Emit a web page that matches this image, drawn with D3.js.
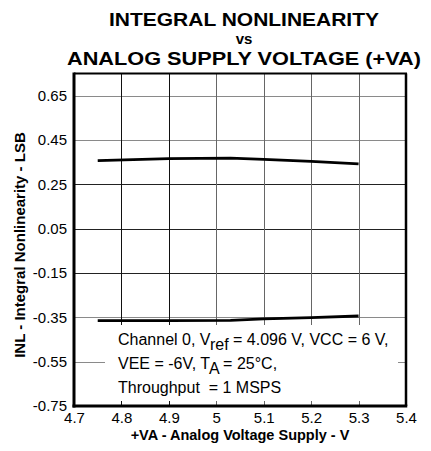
<!DOCTYPE html>
<html><head><meta charset="utf-8">
<script src="https://cdn.jsdelivr.net/npm/d3@7"></script>
<style>body{margin:0;background:#fff}svg{display:block}text{font-family:"Liberation Sans",Arial,sans-serif;white-space:pre}</style>
</head><body><svg id="c" width="431" height="451"></svg>
<script>
const titleLines = ["INTEGRAL NONLINEARITY", "vs", "ANALOG SUPPLY VOLTAGE (+VA)"];
const xLabel = "+VA - Analog Voltage Supply - V";
const yLabel = "INL - Integral Nonlinearity - LSB";
const xTicks = [4.7, 4.8, 4.9, 5.0, 5.1, 5.2, 5.3, 5.4];
const xTickLabels = ["4.7", "4.8", "4.9", "5", "5.1", "5.2", "5.3", "5.4"];
const yTicks = [-0.75, -0.55, -0.35, -0.15, 0.05, 0.25, 0.45, 0.65];
const yTickLabels = ["-0.75", "-0.55", "-0.35", "-0.15", "0.05", "0.25", "0.45", "0.65"];
const supplyV = [4.75, 4.9, 5.03, 5.1, 5.2, 5.3];
const inlMax = [0.357, 0.366, 0.368, 0.363, 0.354, 0.342];
const inlMin = [-0.365, -0.365, -0.364, -0.357, -0.351, -0.344];
const noteLines = [
  [["Channel 0, V", 0], ["ref", 1], [" = 4.096 V, VCC = 6 V,", 0]],
  [["VEE = -6V, T", 0], ["A", 1], [" = 25°C,", 0]],
  [["Throughput  = 1 MSPS", 0]]
];

const svg = d3.select("#c");
const L = 74, R = 406, T = 73.5, B = 406;
const x = d3.scaleLinear().domain([4.7, 5.4]).range([L, R]);
const y = d3.scaleLinear().domain([-0.75, 0.75]).range([B, T]);

// title
const tCfg = [{y: 26, fs: 19, len: 270}, {y: 44, fs: 15, len: null}, {y: 65, fs: 19, len: 354}];
svg.append("g").selectAll("text").data(titleLines).join("text")
  .attr("x", 244).attr("y", (d, i) => tCfg[i].y)
  .attr("text-anchor", "middle").attr("font-weight", "bold")
  .attr("font-size", (d, i) => tCfg[i].fs)
  .each(function (d, i) {
    if (tCfg[i].len) d3.select(this).attr("textLength", tCfg[i].len).attr("lengthAdjust", "spacingAndGlyphs");
  })
  .text(d => d);

// gridlines
const greyY = new Set([0.65, 0.45, -0.35, -0.55]);
svg.append("g").selectAll("line").data(yTicks.filter(v => v > -0.75)).join("line")
  .attr("x1", L).attr("x2", R).attr("y1", d => Math.round(y(d)) + 0.5).attr("y2", d => Math.round(y(d)) + 0.5)
  .attr("stroke", d => greyY.has(d) ? "#8a8a8a" : "#222").attr("stroke-width", 1);
svg.append("g").selectAll("line").data(xTicks.filter(v => v > 4.7 && v < 5.4)).join("line")
  .attr("y1", T).attr("y2", B).attr("x1", d => Math.round(x(d)) + 0.5).attr("x2", d => Math.round(x(d)) + 0.5)
  .attr("stroke", d => d < 4.95 ? "#111" : "#666").attr("stroke-width", 1);

// annotation box (white, covers grid)
svg.append("rect").attr("x", 105).attr("y", 325).attr("width", 293).attr("height", 76).attr("fill", "#fff");

// lines
const line = d3.line().x(d => x(d[0])).y(d => y(d[1]));
[inlMax, inlMin].forEach(s => {
  svg.append("path").datum(supplyV.map((v, i) => [v, s[i]])).attr("d", line)
    .attr("fill", "none").attr("stroke", "#000").attr("stroke-width", 2.8).attr("stroke-linejoin", "round");
});

// frame
svg.append("line").attr("x1", L).attr("x2", R + 1).attr("y1", T).attr("y2", T).attr("stroke", "#000").attr("stroke-width", 2);
svg.append("line").attr("x1", R).attr("x2", R).attr("y1", T).attr("y2", B).attr("stroke", "#000").attr("stroke-width", 2.5);

// axes
const xAxis = d3.axisBottom(x).tickValues(xTicks).tickFormat((d, i) => xTickLabels[i]).tickSize(0).tickPadding(6.5);
const gx = svg.append("g").attr("transform", `translate(0,${B})`).call(xAxis);
gx.select(".domain").remove();
gx.selectAll("text").attr("font-size", 15).attr("font-family", "Liberation Sans, Arial, sans-serif").attr("fill", "#000");
const yAxis = d3.axisLeft(y).tickValues(yTicks).tickFormat((d, i) => yTickLabels[i]).tickSize(0).tickPadding(7);
const gy = svg.append("g").attr("transform", `translate(${L},0)`).call(yAxis);
gy.select(".domain").remove();
gy.selectAll("text").attr("font-size", 15).attr("font-family", "Liberation Sans, Arial, sans-serif").attr("fill", "#000");

svg.append("line").attr("x1", L).attr("x2", L).attr("y1", T - 1).attr("y2", B + 1.5).attr("stroke", "#000").attr("stroke-width", 3);
svg.append("line").attr("x1", L - 1.5).attr("x2", R + 1.25).attr("y1", B).attr("y2", B).attr("stroke", "#000").attr("stroke-width", 3);

// axis titles
svg.append("text").attr("x", 240).attr("y", 440).attr("text-anchor", "middle")
  .attr("font-weight", "bold").attr("font-size", 14.5).text(xLabel);
svg.append("text").attr("transform", "translate(25,245) rotate(-90)").attr("text-anchor", "middle")
  .attr("font-weight", "bold").attr("font-size", 15).text(yLabel);

// note
const note = svg.append("g").attr("font-size", 16);
noteLines.forEach((parts, i) => {
  const t = note.append("text").attr("x", 118).attr("y", [345, 369, 393][i]);
  let sub = false;
  parts.forEach(p => {
    const s = t.append("tspan").text(p[0]);
    if (p[1]) { s.attr("dy", 5); sub = true; }
    else if (sub) { s.attr("dy", -5); sub = false; }
  });
});
</script></body></html>
